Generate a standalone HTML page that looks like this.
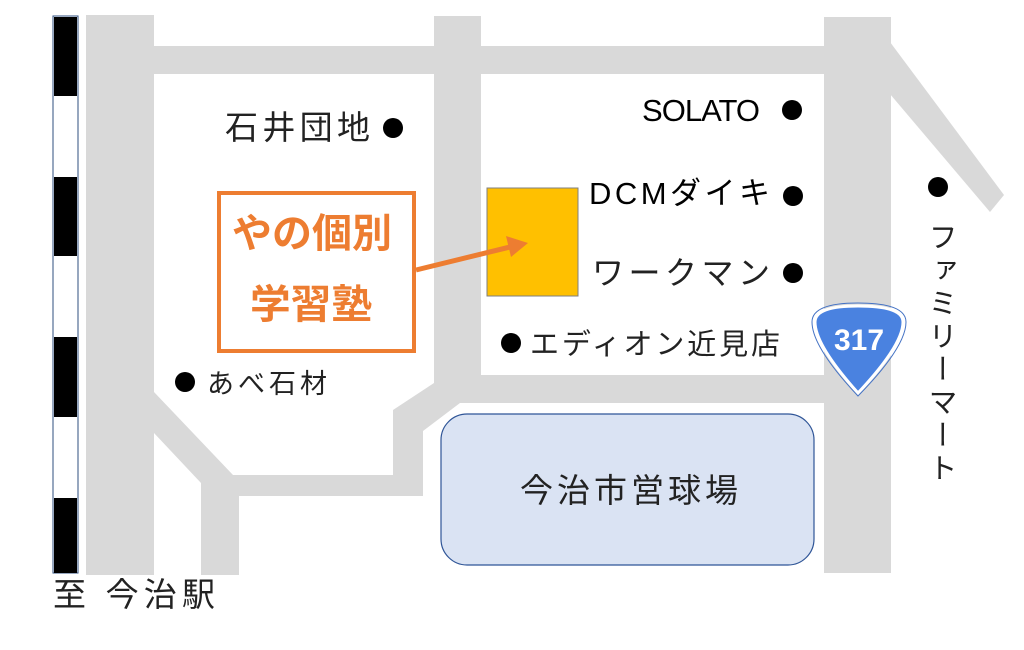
<!DOCTYPE html>
<html><head><meta charset="utf-8"><style>
body{margin:0;background:#fff;}
svg text{font-family:"Liberation Sans","Noto Sans CJK JP",sans-serif;}
</style></head><body>
<svg width="1024" height="645" viewBox="0 0 1024 645" xmlns="http://www.w3.org/2000/svg">
<rect width="1024" height="645" fill="#fff"/>
<g fill="#d9d9d9">
<rect x="86" y="15" width="68" height="560"/>
<rect x="154" y="46" width="670" height="28"/>
<rect x="434" y="16" width="47" height="367"/>
<rect x="824" y="17" width="67" height="556"/>
<rect x="481" y="375" width="343" height="28"/>
<polygon points="434,375 481,375 481,403 460,403 423,431 423,496 239,496 239,575 201,575 201,483 154,433 154,392 233,475 393,475 393,410 434,383"/>
<polygon points="890,42 1004,195 990,212 890,94"/>
</g>
<rect x="53" y="16" width="25" height="557" fill="#fff" stroke="#2f4f7f" stroke-width="1"/>
<g fill="#000">
<rect x="54" y="17" width="23" height="79"/>
<rect x="54" y="177" width="23" height="79"/>
<rect x="54" y="337" width="23" height="80"/>
<rect x="54" y="498" width="23" height="75"/>
</g>
<rect x="219" y="193" width="195" height="158" fill="#fff" stroke="#ED7D31" stroke-width="4"/>
<text x="232" y="247" textLength="160" lengthAdjust="spacingAndGlyphs" font-size="40" font-weight="bold" fill="#ED7D31">やの個別</text>
<text x="250" y="318" textLength="122" lengthAdjust="spacingAndGlyphs" font-size="40" font-weight="bold" fill="#ED7D31">学習塾</text>
<rect x="487" y="188" width="91" height="108" fill="#FFC000" stroke="#7f7f7f" stroke-width="1"/>
<line x1="416" y1="270" x2="510" y2="247" stroke="#ED7D31" stroke-width="5"/>
<polygon points="528,243 506,236 511,257" fill="#ED7D31"/>
<rect x="441" y="414" width="373" height="151" rx="26" fill="#DAE3F3" stroke="#2F5597" stroke-width="1.2"/>
<text x="520" y="502" textLength="218" font-size="33" fill="#222">今治市営球場</text>
<text x="225" y="139" textLength="145" font-size="33" fill="#222">石井団地</text>
<circle cx="393" cy="128" r="10" fill="#000"/>
<circle cx="185" cy="382" r="10" fill="#000"/>
<text x="207" y="393" textLength="120" font-size="27" fill="#222">あべ石材</text>
<text x="642" y="121" textLength="118" font-size="31" fill="#000">SOLATO</text>
<circle cx="792" cy="110" r="10" fill="#000"/>
<text x="589" y="204" textLength="181" font-size="31" fill="#000">DCMダイキ</text>
<circle cx="793" cy="196" r="10" fill="#000"/>
<text x="592" y="284" textLength="178" font-size="32" fill="#222">ワークマン</text>
<circle cx="793" cy="273" r="10" fill="#000"/>
<circle cx="511" cy="343" r="10" fill="#000"/>
<text x="530" y="354" textLength="250" font-size="29" fill="#222">エディオン近見店</text>
<path d="M815,322 Q815,306 858,306 Q903,306 903,322 Q903,345 858,393 Q815,345 815,322Z" fill="#4a82e0" stroke="#fff" stroke-width="3"/>
<path d="M812,322 Q812,303 858,303 Q906,303 906,322 Q906,347 858,396 Q812,347 812,322Z" fill="none" stroke="#4472C4" stroke-width="1"/>
<text x="859" y="350" text-anchor="middle" font-size="30" font-weight="bold" fill="#fff">317</text>
<circle cx="938" cy="187" r="10" fill="#000"/>
<text x="940" y="222" font-size="29" fill="#222" style="writing-mode:vertical-rl;text-orientation:upright;" letter-spacing="4">ファミリーマート</text>
<text x="53" y="606" textLength="162" font-size="33" fill="#222">至  今治駅</text>
</svg>
</body></html>
